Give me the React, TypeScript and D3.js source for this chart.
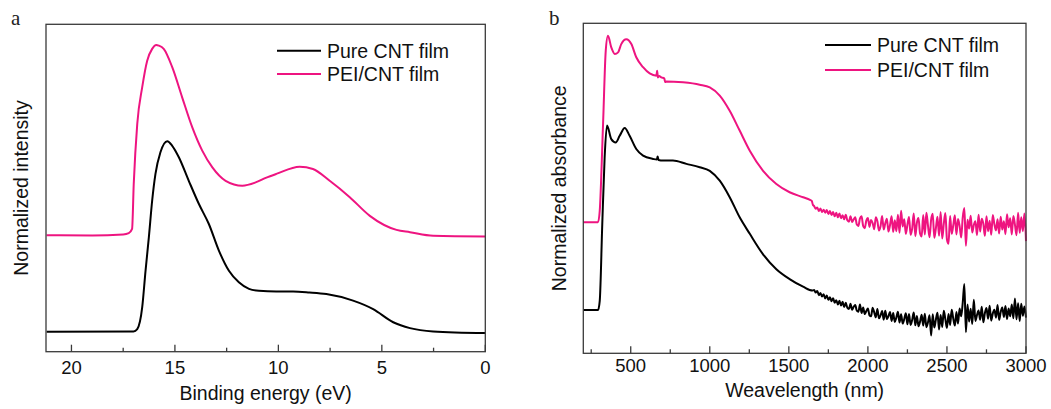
import React from "react";
import * as d3 from "d3";

// ---------- Panel a : UPS spectra ----------
const energyTicks = [20, 15, 10, 5, 0];
const energyMinorTicks = [17.5, 12.5, 7.5, 2.5];

const pureEnergy = [21.2, 17.0, 16.82, 16.58, 16.42, 16.26, 16.1, 15.94, 15.7, 15.37, 15.13, 14.81, 14.33, 13.84, 13.36, 12.87, 12.39, 11.91, 11.42, 10.94, 10.1, 9.29, 8.5, 7.68, 6.39, 5.42, 4.45, 3.64, 2.52, 0];
const pureIntensity = [6.1, 6.2, 6.9, 13.6, 24.7, 34.9, 46.1, 54.3, 60.9, 64.3, 62.9, 59.4, 52.2, 45.1, 39.0, 30.8, 24.7, 21.2, 19.2, 18.6, 18.4, 18.4, 18.1, 17.6, 15.6, 13.0, 9.0, 7.2, 6.2, 5.7];

const peiEnergy = [21.2, 19, 17.5, 17.23, 17.07, 16.99, 16.82, 16.58, 16.34, 16.1, 15.9, 15.78, 15.54, 15.13, 14.65, 14.16, 13.68, 13.19, 12.55, 11.74, 11.1, 10.61, 10.1, 8.97, 8.33, 7.52, 6.55, 5.58, 4.29, 3.64, 2.52, 0];
const peiIntensity = [35.6, 35.5, 35.8, 36.2, 37.5, 51.2, 69.6, 80.8, 88.9, 92.5, 93.7, 93.5, 92.5, 86.9, 77.7, 68.5, 61.4, 56.3, 52.2, 50.7, 51.7, 53.1, 54.3, 56.5, 55.8, 52.2, 47.2, 41.5, 37.2, 36.5, 35.4, 35.2];

// ---------- Panel b : absorbance spectra ----------
const wlTicks = [500, 1000, 1500, 2000, 2500, 3000];
const wlMinorTicks = [250, 750, 1250, 1750, 2250, 2750];

const pureWl = [200, 293, 304, 320, 335, 350, 377, 405, 430, 462, 493, 535, 578, 641, 665, 670, 676, 704, 767, 852, 936, 1000, 1063, 1126, 1189, 1253, 1337, 1421, 1505, 1590, 1650];
const pureAbs = [13.1, 13.1, 15.9, 39.2, 59.4, 69.0, 64.9, 63.9, 65.9, 68.3, 65.9, 61.9, 59.9, 58.9, 58.7, 59.6, 58.6, 58.4, 58.4, 57.4, 56.4, 55.3, 52.3, 47.3, 41.2, 36.2, 30.0, 25.5, 22.5, 20.2, 19.0];

const peiWl = [200, 293, 304, 325, 342, 356, 377, 399, 420, 440, 472, 504, 535, 578, 620, 662, 667, 672, 680, 693, 712, 718, 725, 831, 936, 1000, 1063, 1126, 1189, 1253, 1337, 1421, 1505, 1590, 1634, 1645, 1652];
const peiAbs = [39.7, 39.7, 43.2, 69.5, 91.7, 96.2, 92.7, 90.7, 91.2, 93.7, 95.2, 93.7, 89.7, 86.7, 84.8, 84.1, 85.6, 83.6, 84.0, 83.6, 83.3, 82.2, 82.4, 82.1, 81.4, 80.6, 78.1, 73.5, 67.5, 61.4, 55.3, 51.3, 48.8, 47.3, 46.5, 46.2, 45.0];

// noisy NIR tail, sampled every 10 nm from 1660 nm to 3000 nm
const tailStart = 1660;
const tailStep = 10;
const peiTail = [
  44.6, 43.8, 44.2, 43.1, 43.9, 42.8, 43.5, 42.6, 43.4, 42.2,
  43.1, 41.9, 42.8, 41.5, 42.6, 41.2, 42.4, 40.9, 41.8, 40.6,
  42.0, 40.3, 39.9, 41.5, 39.8, 40.6, 41.2, 39.0, 38.6, 40.9,
  41.5, 38.6, 37.9, 40.2, 41.0, 38.3, 40.4, 39.5, 37.6, 41.2,
  40.0, 37.2, 38.5, 41.6, 37.5, 39.4, 40.8, 36.9, 38.9, 41.5,
  36.8, 40.3, 37.0, 42.0, 36.5, 43.2, 38.4, 40.6, 36.2, 39.0,
  41.3, 35.9, 37.8, 42.4, 35.5, 39.6, 41.0, 36.3, 35.4, 41.9,
  36.0, 42.6, 38.7, 35.2, 40.5, 42.3, 35.0, 37.9, 41.4, 35.6,
  42.8, 34.8, 39.2, 42.5, 34.5, 33.2, 41.6, 36.2, 38.8, 41.8,
  36.0, 40.7, 38.6, 35.1, 41.2, 44.0, 32.6, 40.5, 37.8, 41.7,
  36.6, 38.9, 40.0, 35.8, 42.0, 36.9, 40.8, 39.3, 35.6, 41.5,
  37.0, 40.2, 35.9, 41.9, 39.1, 37.2, 40.6, 36.3, 41.4, 37.5,
  40.0, 36.1, 42.1, 38.2, 40.9, 36.0, 41.6, 39.0, 35.8, 42.6,
  36.5, 41.2, 37.0, 42.4, 34.0,
];
const pureTail = [
  19.2, 18.4, 18.9, 17.6, 18.3, 17.2, 17.9, 16.6, 17.5, 16.2,
  17.0, 15.8, 16.7, 15.3, 16.1, 14.8, 15.9, 14.5, 15.6, 14.0,
  15.3, 13.8, 13.4, 15.0, 13.2, 14.1, 14.6, 12.9, 12.6, 14.8,
  12.2, 13.9, 11.9, 12.8, 13.6, 11.5, 11.2, 13.8, 12.4, 10.9,
  13.4, 10.6, 11.5, 12.8, 10.2, 12.9, 10.4, 11.3, 12.5, 9.8,
  12.2, 9.5, 10.8, 12.6, 9.3, 11.8, 9.0, 10.4, 12.1, 8.8,
  11.9, 8.6, 10.1, 12.4, 8.5, 11.3, 8.2, 9.6, 11.7, 8.4,
  12.0, 7.9, 9.4, 11.5, 5.4, 11.8, 7.8, 10.2, 12.3, 7.2,
  11.6, 8.0, 12.9, 10.3, 7.7, 11.9, 8.6, 13.2, 10.5, 8.4,
  12.5, 9.0, 13.6, 11.2, 15.4, 21.0, 6.4, 14.8, 9.6, 13.5,
  8.9, 16.2, 9.8, 11.6, 13.0, 10.2, 14.1, 9.4, 12.2, 13.7,
  10.5, 14.4, 9.9, 12.1, 13.2, 10.8, 14.6, 10.1, 12.5, 13.9,
  11.0, 14.3, 10.4, 13.6, 11.2, 14.8, 10.6, 16.6, 10.3, 15.2,
  9.8, 15.0, 11.4, 14.2, 10.8,
];

const seriesNames = ["Pure CNT film", "PEI/CNT film"];
const seriesColors = ["#000000", "#EE1480"];

const FONT = "'Liberation Sans', Arial, Helvetica, sans-serif";
const SERIF = "'Liberation Serif', 'Times New Roman', serif";

type Pt = [number, number];

function zip(xs: number[], ys: number[]): Pt[] {
  const n = Math.min(xs.length, ys.length);
  const out: Pt[] = [];
  for (let i = 0; i < n; i++) out.push([xs[i], ys[i]]);
  return out;
}

function tailPoints(vals: number[]): Pt[] {
  return vals.map((v, i) => [tailStart + i * tailStep, v] as Pt);
}

interface PanelProps {
  left: number;
  right: number;
  top: number;
  bottom: number;
  xDomain: [number, number];
  majors: number[];
  minors: number[];
  series: Pt[][];
  xTitle: string;
  yTitle: string;
  yTitleX: number;
  tickY: number;
  titleY: number;
  letter: string;
  letterX: number;
  legendX: number;
  legendY: number[];
  legendLen: number;
}

function Panel(p: PanelProps) {
  const x = d3.scaleLinear().domain(p.xDomain).range([p.left, p.right]);
  const y = d3.scaleLinear().domain([0, 100]).range([p.bottom, p.top]);
  const line = d3
    .line<Pt>()
    .x((d) => x(d[0]))
    .y((d) => y(d[1]))
    .curve(d3.curveMonotoneX);
  const midY = (p.top + p.bottom) / 2;
  return (
    <g>
      <text x={p.letterX} y={25} fontFamily={SERIF} fontSize={21} fill="#222">
        {p.letter}
      </text>
      {p.series.map((s, i) => (
        <path
          key={i}
          d={line(s) || ""}
          fill="none"
          stroke={seriesColors[i % 2]}
          strokeWidth={2}
          strokeLinejoin="round"
        />
      ))}
      <rect
        x={p.left}
        y={p.top}
        width={p.right - p.left}
        height={p.bottom - p.top}
        fill="none"
        stroke="#3a3a3a"
        strokeWidth={1.3}
      />
      {p.majors.map((t) => (
        <g key={"M" + t}>
          <line x1={x(t)} x2={x(t)} y1={p.bottom} y2={p.bottom - 7} stroke="#3a3a3a" strokeWidth={1.3} />
          <text x={x(t)} y={p.tickY} textAnchor="middle" fontFamily={FONT} fontSize={18.5} fill="#111">
            {t}
          </text>
        </g>
      ))}
      {p.minors.map((t) => (
        <line key={"m" + t} x1={x(t)} x2={x(t)} y1={p.bottom} y2={p.bottom - 4} stroke="#3a3a3a" strokeWidth={1.3} />
      ))}
      <text
        x={(p.left + p.right) / 2}
        y={p.titleY}
        textAnchor="middle"
        fontFamily={FONT}
        fontSize={19.5}
        fill="#111"
      >
        {p.xTitle}
      </text>
      <text
        transform={`translate(${p.yTitleX},${midY}) rotate(-90)`}
        textAnchor="middle"
        fontFamily={FONT}
        fontSize={19.5}
        fill="#111"
      >
        {p.yTitle}
      </text>
      {seriesNames.map((name, i) => (
        <g key={name}>
          <line
            x1={p.legendX}
            x2={p.legendX + p.legendLen}
            y1={p.legendY[i]}
            y2={p.legendY[i]}
            stroke={seriesColors[i]}
            strokeWidth={2}
          />
          <text
            x={p.legendX + p.legendLen + 6}
            y={p.legendY[i] + 6.8}
            fontFamily={FONT}
            fontSize={19.5}
            fill="#111"
          >
            {name}
          </text>
        </g>
      ))}
    </g>
  );
}

export default function App() {
  const seriesA: Pt[][] = [zip(pureEnergy, pureIntensity), zip(peiEnergy, peiIntensity)];
  const pureB = zip(pureWl, pureAbs).concat(tailPoints(pureTail));
  const peiB = zip(peiWl, peiAbs).concat(tailPoints(peiTail));
  return (
    <svg
      width={1051}
      height={409}
      viewBox="0 0 1051 409"
      style={{ position: "absolute", left: 0, top: 0, background: "#fff" }}
    >
      <rect x={0} y={0} width={1051} height={409} fill="#fff" />
      <Panel
        left={46}
        right={485.3}
        top={24.3}
        bottom={351.7}
        xDomain={[21.23, 0]}
        majors={energyTicks}
        minors={energyMinorTicks}
        series={seriesA}
        xTitle="Binding energy (eV)"
        yTitle="Normalized intensity"
        yTitleX={27.5}
        tickY={373.5}
        titleY={400}
        letter="a"
        letterX={11}
        legendX={277}
        legendY={[50.7, 74]}
        legendLen={44}
      />
      <Panel
        left={583.3}
        right={1026}
        top={23.3}
        bottom={353.3}
        xDomain={[200, 3000]}
        majors={wlTicks}
        minors={wlMinorTicks}
        series={[pureB, peiB]}
        xTitle="Weavelength (nm)"
        yTitle="Normalized absorbance"
        yTitleX={566}
        tickY={372}
        titleY={397}
        letter="b"
        letterX={549}
        legendX={825}
        legendY={[45, 70]}
        legendLen={46}
      />
    </svg>
  );
}
